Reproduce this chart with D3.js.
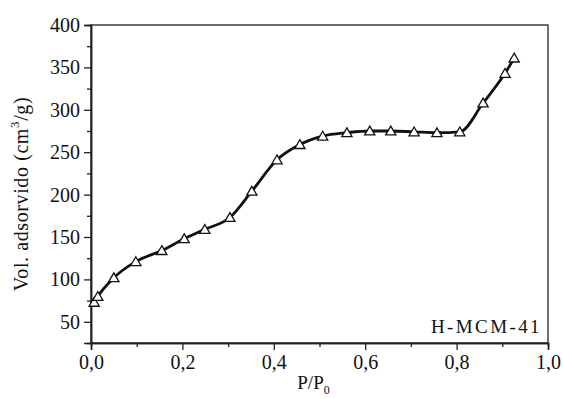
<!DOCTYPE html>
<html>
<head>
<meta charset="utf-8">
<script src="https://cdn.jsdelivr.net/npm/d3@7"></script>
<style>
  body { margin: 0; background: #fff; }
  text { font-family: "Liberation Serif", "DejaVu Serif", serif; fill: #111; }
</style>
</head>
<body>
<div id="chart"></div>
<script>
'use strict'

// relative pressure P/P0
const pressure = [0.007, 0.015, 0.05, 0.098, 0.155, 0.204, 0.249, 0.304, 0.352, 0.407,
    0.457, 0.507, 0.56, 0.61, 0.656, 0.707, 0.757, 0.807, 0.858, 0.906, 0.926]
// adsorbed volume (cm3/g)
const volume = [73, 80, 102, 121, 134, 148, 159, 173, 204, 241,
    259, 269, 273, 275, 275, 274, 273, 274, 308, 343, 361]

const xTicks = [0, 0.2, 0.4, 0.6, 0.8, 1.0]
const yTicks = [50, 100, 150, 200, 250, 300, 350, 400]
const sampleName = 'H-MCM-41'

const svgWidth = 563
const svgHeight = 399
const margin = { left: 91, right: 15, top: 25, bottom: 56 }
const width = svgWidth - margin.left - margin.right
const height = svgHeight - margin.top - margin.bottom

const svg = d3.select('#chart')
    .append('svg')
    .attr('width', svgWidth)
    .attr('height', svgHeight)

const g = svg.append('g')
    .attr('transform', `translate(${margin.left},${margin.top})`)

const x = d3.scaleLinear().domain([0, 1]).range([0, width])
const y = d3.scaleLinear().domain([25, 400]).range([height, 0])

const fmt = d => d3.format('.1f')(d).replace('.', ',')

// frame (top + right)
g.append('rect')
    .attr('width', width).attr('height', height)
    .attr('fill', 'none').attr('stroke', '#222').attr('stroke-width', 1.3)

// minor ticks
const xAxisMinor = d3.axisBottom(x).tickValues(d3.range(0.1, 1, 0.2)).tickSize(4).tickFormat('')
const yAxisMinor = d3.axisLeft(y).tickValues(d3.range(75, 400, 50)).tickSize(4).tickFormat('')
g.append('g').attr('transform', `translate(0,${height})`).call(xAxisMinor)
g.append('g').call(yAxisMinor)

g.append('g')
    .attr('transform', `translate(0,${height})`)
    .call(d3.axisBottom(x).tickValues(xTicks).tickSize(7).tickPadding(5).tickFormat(fmt))
g.append('g')
    .call(d3.axisLeft(y).tickValues(yTicks).tickSize(7).tickPadding(4))

g.selectAll('.domain').attr('stroke', '#222').attr('stroke-width', 1.5)
g.selectAll('.tick line').attr('stroke', '#222').attr('stroke-width', 1.3)
g.selectAll('.tick text').style('font-size', '20px').attr('fill', '#111')

// axis labels
const xLab = svg.append('text')
    .attr('x', margin.left + x(0.5) - 6)
    .attr('y', 389)
    .attr('text-anchor', 'middle')
    .style('font-size', '19px')
xLab.append('tspan').text('P/P')
xLab.append('tspan').attr('dy', 5).style('font-size', '12px').text('0')

const yLab = svg.append('text')
    .attr('transform', `translate(28,194) rotate(-90)`)
    .attr('text-anchor', 'middle')
    .style('font-size', '20px')
    .style('letter-spacing', '0.6px')
yLab.append('tspan').text('Vol. adsorvido (cm')
yLab.append('tspan').attr('dy', -9).style('font-size', '13px').text('3')
yLab.append('tspan').attr('dy', 9).text('/g)')

g.append('text')
    .attr('x', width - 6)
    .attr('y', height - 10)
    .attr('text-anchor', 'end')
    .style('font-size', '19px')
    .style('letter-spacing', '2.4px')
    .text(sampleName)

// isotherm
const data = pressure.map((p, i) => ({ p: p, v: volume[i] }))

const line = d3.line()
    .x(d => x(d.p))
    .y(d => y(d.v))
    .curve(d3.curveMonotoneX)

g.append('path')
    .datum(data)
    .attr('fill', 'none')
    .attr('stroke', '#111')
    .attr('stroke-width', 2.8)
    .attr('d', line)

g.selectAll('.pt')
    .data(data)
    .join('path')
    .attr('class', 'pt')
    .attr('d', d3.symbol(d3.symbolTriangle, 45))
    .attr('transform', d => `translate(${x(d.p)},${y(d.v) + 1})`)
    .attr('fill', '#fff')
    .attr('stroke', '#111')
    .attr('stroke-width', 1.3)
</script>
</body>
</html>
